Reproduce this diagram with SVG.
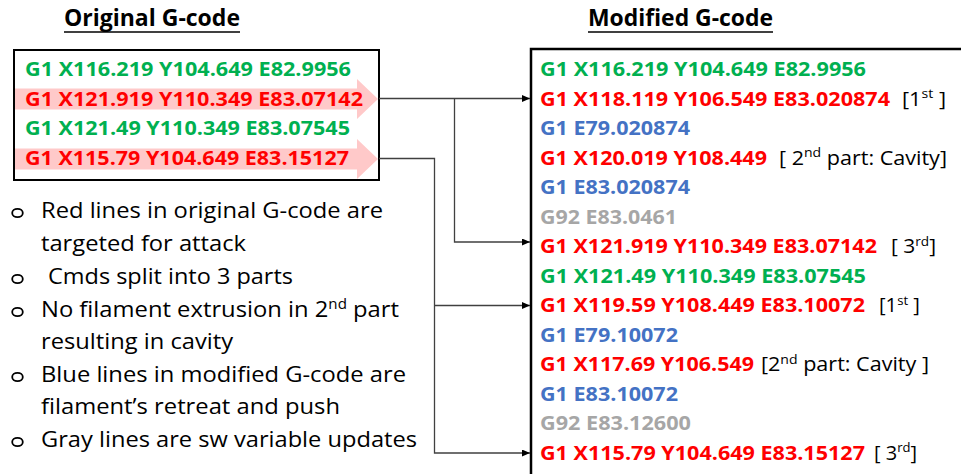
<svg xmlns="http://www.w3.org/2000/svg" width="961" height="474" viewBox="0 0 961 474">
<style>
.t{font-family:"Open Sans","Noto Sans",sans-serif;font-weight:700;font-size:23px;fill:#000}
.c{font-family:"Open Sans","Noto Sans",sans-serif;font-weight:700;font-size:20px}
.n{font-family:"Open Sans","Noto Sans",sans-serif;font-weight:400;font-size:20px;fill:#000}
.p{font-family:"Open Sans","Noto Sans",sans-serif;font-weight:400;font-size:22px;fill:#000}
.g{fill:#00B050}.r{fill:#FF0000}.b{fill:#4472C4}.y{fill:#A6A6A6}
.box{fill:none;stroke:#000}
.hl{fill:#FFC9C9}
.cn{fill:none;stroke:#404040;stroke-width:1.3}
.bu{fill:none;stroke:#000;stroke-width:1.8}
</style>
<defs>
<marker id="ah" markerUnits="userSpaceOnUse" markerWidth="9" markerHeight="8" refX="8" refY="3.5" orient="auto">
<path d="M0,0 L8,3.5 L0,7 z" fill="#000"/>
</marker>
</defs>
<rect width="961" height="474" fill="#fff"/>

<g id="title-original">
<text class="t" x="64" y="25.5" textLength="176" lengthAdjust="spacingAndGlyphs">Original G-code</text>
<line x1="64" y1="32" x2="240" y2="32" stroke="#000" stroke-width="1.6"/>
</g>
<g id="title-modified">
<text class="t" x="588" y="25.5" textLength="185" lengthAdjust="spacingAndGlyphs">Modified G-code</text>
<line x1="588" y1="32" x2="773" y2="32" stroke="#000" stroke-width="1.6"/>
</g>

<g id="original-gcode">
<path class="hl" d="M14,88.5 H357 V79 L378,99 L357,119 V109.5 H14 z"/>
<path class="hl" d="M14,148.5 H357 V139 L378,159 L357,179 V169.5 H14 z"/>
<text class="c g" x="25" y="76" textLength="326" lengthAdjust="spacingAndGlyphs">G1 X116.219 Y104.649 E82.9956</text>
<text class="c r" x="25" y="105.5" textLength="338" lengthAdjust="spacingAndGlyphs">G1 X121.919 Y110.349 E83.07142</text>
<text class="c g" x="25" y="135" textLength="325" lengthAdjust="spacingAndGlyphs">G1 X121.49 Y110.349 E83.07545</text>
<text class="c r" x="25" y="165" textLength="324" lengthAdjust="spacingAndGlyphs">G1 X115.79 Y104.649 E83.15127</text>
<rect class="box" x="14" y="50" width="365" height="130" stroke-width="2"/>
</g>

<g id="modified-gcode">
<rect class="box" x="531" y="49" width="460" height="460" stroke-width="2.5"/>
<text class="c g" x="540" y="76" textLength="326" lengthAdjust="spacingAndGlyphs">G1 X116.219 Y104.649 E82.9956</text>
<text class="c r" x="540" y="105.5" textLength="350" lengthAdjust="spacingAndGlyphs">G1 X118.119 Y106.549 E83.020874</text>
<text class="n" x="902" y="105.5" textLength="44" lengthAdjust="spacingAndGlyphs">[1<tspan font-size="13" dy="-7.5">st</tspan><tspan dy="7.5"> ]</tspan></text>
<text class="c b" x="540" y="135" textLength="150" lengthAdjust="spacingAndGlyphs">G1 E79.020874</text>
<text class="c r" x="540" y="164.5" textLength="227" lengthAdjust="spacingAndGlyphs">G1 X120.019 Y108.449</text>
<text class="n" x="779" y="164.5" textLength="168" lengthAdjust="spacingAndGlyphs">[ 2<tspan font-size="13" dy="-7.5">nd</tspan><tspan dy="7.5"> part: Cavity]</tspan></text>
<text class="c b" x="540" y="194" textLength="150" lengthAdjust="spacingAndGlyphs">G1 E83.020874</text>
<text class="c y" x="540" y="223.5" textLength="137" lengthAdjust="spacingAndGlyphs">G92 E83.0461</text>
<text class="c r" x="540" y="253" textLength="337" lengthAdjust="spacingAndGlyphs">G1 X121.919 Y110.349 E83.07142</text>
<text class="n" x="891" y="253" textLength="45" lengthAdjust="spacingAndGlyphs">[ 3<tspan font-size="13" dy="-7.5">rd</tspan><tspan dy="7.5">]</tspan></text>
<text class="c g" x="540" y="282.5" textLength="326" lengthAdjust="spacingAndGlyphs">G1 X121.49 Y110.349 E83.07545</text>
<text class="c r" x="540" y="312" textLength="325" lengthAdjust="spacingAndGlyphs">G1 X119.59 Y108.449 E83.10072</text>
<text class="n" x="879" y="312" textLength="41" lengthAdjust="spacingAndGlyphs">[1<tspan font-size="13" dy="-7.5">st</tspan><tspan dy="7.5"> ]</tspan></text>
<text class="c b" x="540" y="341.5" textLength="138" lengthAdjust="spacingAndGlyphs">G1 E79.10072</text>
<text class="c r" x="540" y="371" textLength="214" lengthAdjust="spacingAndGlyphs">G1 X117.69 Y106.549</text>
<text class="n" x="761" y="371" textLength="168" lengthAdjust="spacingAndGlyphs">[2<tspan font-size="13" dy="-7.5">nd</tspan><tspan dy="7.5"> part: Cavity ]</tspan></text>
<text class="c b" x="540" y="400.5" textLength="138" lengthAdjust="spacingAndGlyphs">G1 E83.10072</text>
<text class="c y" x="540" y="430" textLength="151" lengthAdjust="spacingAndGlyphs">G92 E83.12600</text>
<text class="c r" x="540" y="459.5" textLength="325" lengthAdjust="spacingAndGlyphs">G1 X115.79 Y104.649 E83.15127</text>
<text class="n" x="874" y="459.5" textLength="43" lengthAdjust="spacingAndGlyphs">[ 3<tspan font-size="13" dy="-7.5">rd</tspan><tspan dy="7.5">]</tspan></text>
</g>

<g id="notes">
<ellipse class="bu" cx="17.5" cy="213" rx="5.3" ry="4.2"/>
<text class="p" x="41" y="218" textLength="342" lengthAdjust="spacingAndGlyphs">Red lines in original G-code are</text>
<text class="p" x="41" y="251" textLength="205" lengthAdjust="spacingAndGlyphs">targeted for attack</text>
<ellipse class="bu" cx="17.5" cy="279" rx="5.3" ry="4.2"/>
<text class="p" x="48" y="284" textLength="245" lengthAdjust="spacingAndGlyphs">Cmds split into 3 parts</text>
<ellipse class="bu" cx="17.5" cy="312" rx="5.3" ry="4.2"/>
<text class="p" x="41" y="317" textLength="358" lengthAdjust="spacingAndGlyphs">No filament extrusion in 2<tspan font-size="14" dy="-8.5">nd</tspan><tspan dy="8.5"> part</tspan></text>
<text class="p" x="41" y="349" textLength="192" lengthAdjust="spacingAndGlyphs">resulting in cavity</text>
<ellipse class="bu" cx="17.5" cy="377" rx="5.3" ry="4.2"/>
<text class="p" x="41" y="382" textLength="365" lengthAdjust="spacingAndGlyphs">Blue lines in modified G-code are</text>
<text class="p" x="41" y="414" textLength="299" lengthAdjust="spacingAndGlyphs">filament’s retreat and push</text>
<ellipse class="bu" cx="17.5" cy="442" rx="5.3" ry="4.2"/>
<text class="p" x="41" y="447" textLength="376" lengthAdjust="spacingAndGlyphs">Gray lines are sw variable updates</text>
</g>

<g id="connectors">
<path class="cn" d="M379,98.5 H530" marker-end="url(#ah)"/>
<path class="cn" d="M454.5,98.5 V242 H530" marker-end="url(#ah)"/>
<path class="cn" d="M379,158.5 H434.5 V453 H530" marker-end="url(#ah)"/>
<path class="cn" d="M434.5,305.5 H530" marker-end="url(#ah)"/>
</g>
</svg>
